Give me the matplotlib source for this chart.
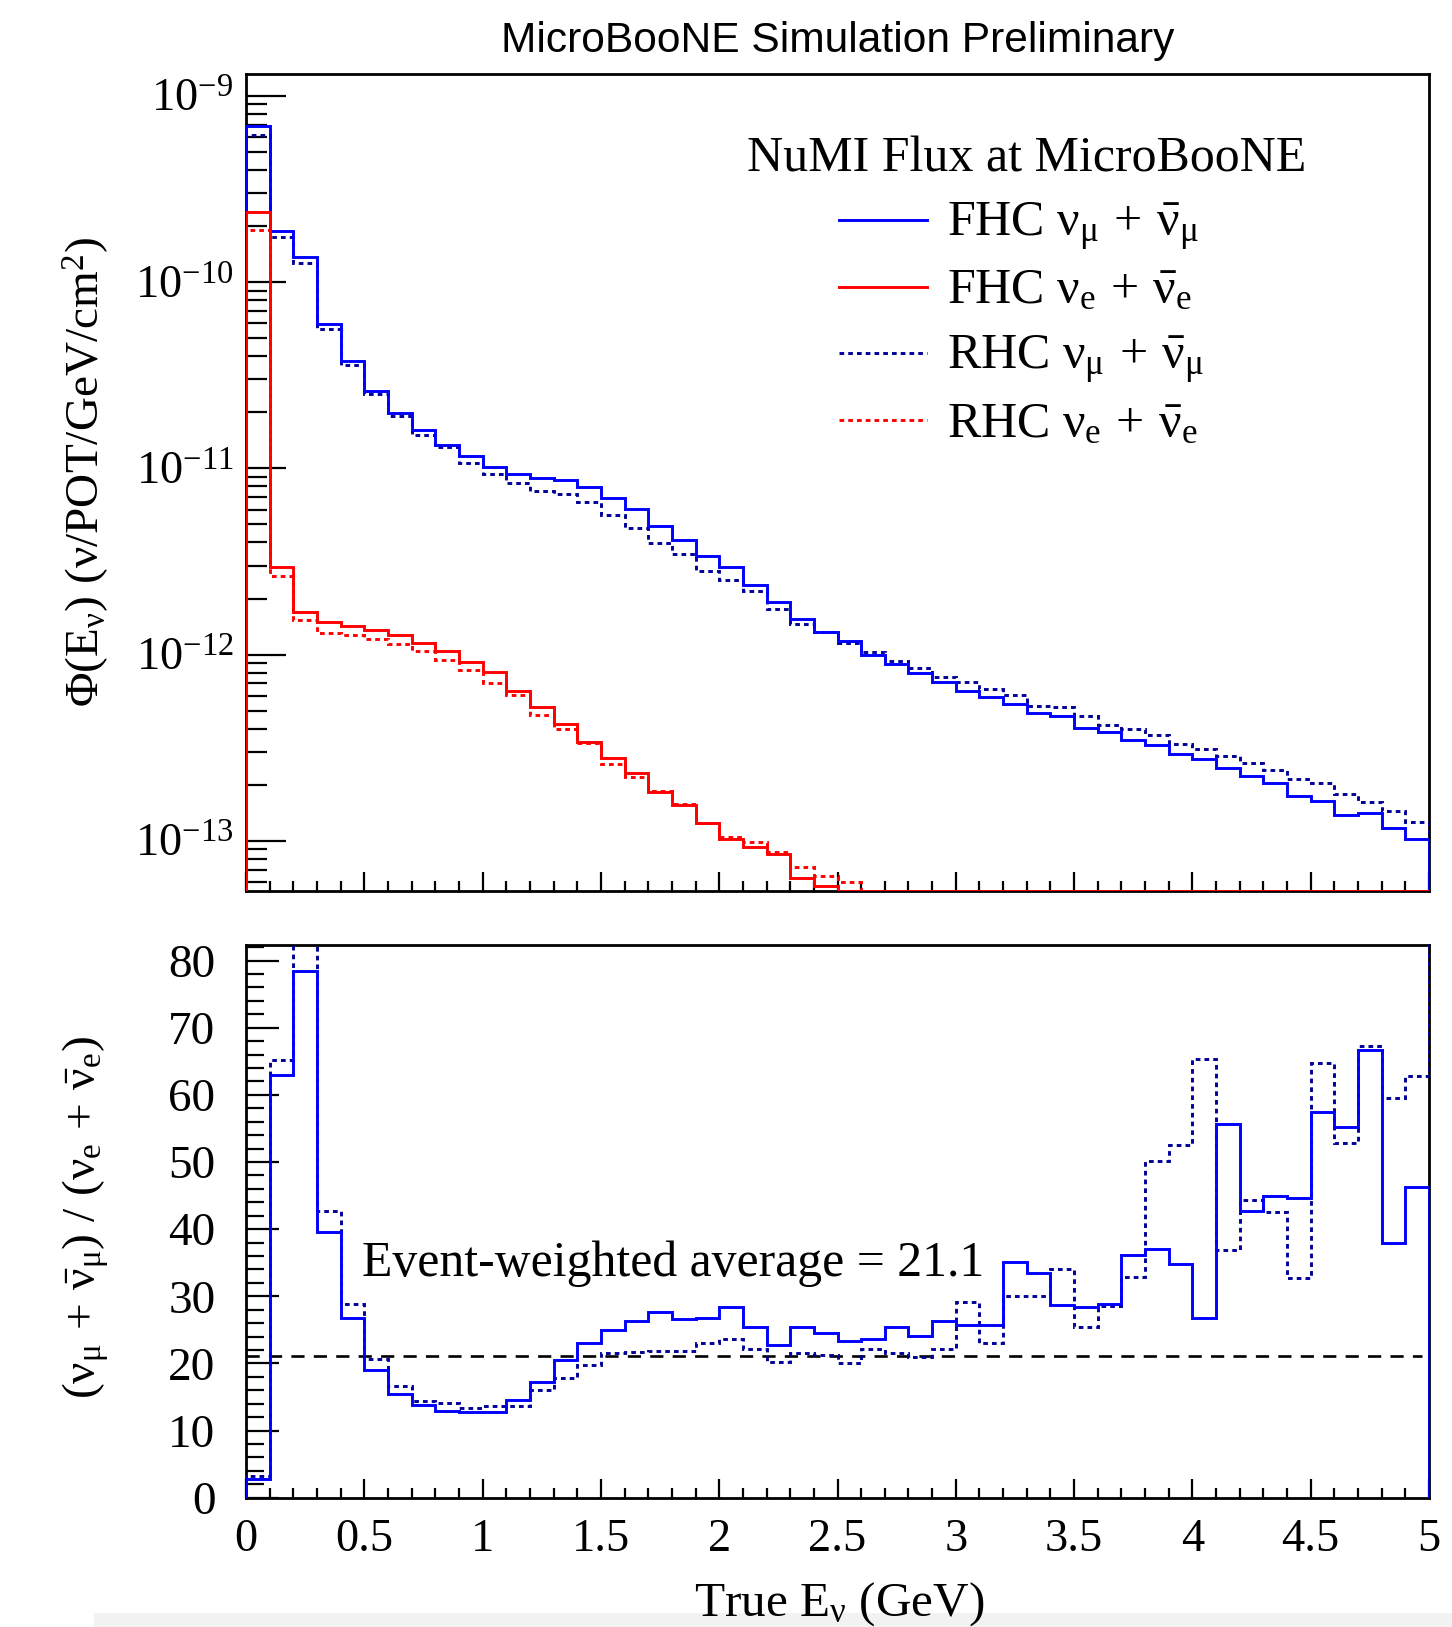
import matplotlib
matplotlib.use("Agg")
import matplotlib.pyplot as plt
import numpy as np
from matplotlib.ticker import MultipleLocator, LogLocator, FormatStrFormatter, NullFormatter
from matplotlib.lines import Line2D
from matplotlib.patches import Rectangle

plt.rcParams['font.family'] = ['Liberation Serif', 'DejaVu Serif']
plt.rcParams['mathtext.fontset'] = 'custom'
plt.rcParams['mathtext.rm'] = 'Liberation Serif'
plt.rcParams['mathtext.it'] = 'Liberation Serif'
plt.rcParams['mathtext.bf'] = 'Liberation Serif:bold'

# ---------------- data ----------------
bin_edges = np.round(np.arange(0, 5.0001, 0.1), 3)   # 50 bins of 0.1 GeV

fhc_numu = [6.9e-10, 1.87e-10, 1.36e-10, 5.97e-11, 3.75e-11, 2.6e-11, 1.98e-11, 1.61e-11, 1.34e-11, 1.17e-11,
            1.02e-11, 9.3e-12, 8.9e-12, 8.65e-12, 7.9e-12, 6.9e-12, 6.05e-12, 4.9e-12, 4.12e-12, 3.38e-12,
            2.94e-12, 2.36e-12, 1.92e-12, 1.55e-12, 1.33e-12, 1.19e-12, 9.9e-13, 8.87e-13, 7.96e-13, 7.12e-13,
            6.36e-13, 5.95e-13, 5.42e-13, 4.87e-13, 4.68e-13, 4.06e-13, 3.83e-13, 3.49e-13, 3.26e-13, 2.93e-13,
            2.75e-13, 2.47e-13, 2.23e-13, 2.04e-13, 1.75e-13, 1.64e-13, 1.38e-13, 1.41e-13, 1.17e-13, 1.02e-13]

rhc_numu = [6.2e-10, 1.74e-10, 1.26e-10, 5.58e-11, 3.59e-11, 2.51e-11, 1.9e-11, 1.51e-11, 1.30e-11, 1.07e-11,
            9.3e-12, 8.3e-12, 7.55e-12, 7.25e-12, 6.6e-12, 5.6e-12, 4.76e-12, 3.99e-12, 3.47e-12, 2.82e-12,
            2.51e-12, 2.2e-12, 1.75e-12, 1.46e-12, 1.32e-12, 1.15e-12, 1.03e-12, 9.2e-13, 8.5e-13, 7.55e-13,
            7.1e-13, 6.5e-13, 6.06e-13, 5.27e-13, 5.21e-13, 4.68e-13, 4.2e-13, 3.98e-13, 3.72e-13, 3.3e-13,
            3.1e-13, 2.86e-13, 2.62e-13, 2.4e-13, 2.14e-13, 2.04e-13, 1.79e-13, 1.61e-13, 1.44e-13, 1.27e-13]

fhc_nue = [2.39e-10, 2.96e-12, 1.70e-12, 1.49e-12, 1.42e-12, 1.36e-12, 1.27e-12, 1.16e-12, 1.04e-12, 9.1e-13,
           8.1e-13, 6.4e-13, 5.2e-13, 4.24e-13, 3.4e-13, 2.8e-13, 2.3e-13, 1.83e-13, 1.55e-13, 1.25e-13,
           1.02e-13, 9.3e-14, 8.55e-14, 6.3e-14, 5.7e-14, 5.1e-14, 4.2e-14, 3.5e-14, 3.3e-14, 2.7e-14,
           2.5e-14, 2.3e-14, 1.5e-14, 1.5e-14, 1.6e-14, 1.4e-14, 1.3e-14, 9.6e-15, 8.8e-15, 8.4e-15,
           1.0e-14, 4.4e-15, 5.2e-15, 4.5e-15, 3.9e-15, 2.9e-15, 2.5e-15, 2.1e-15, 3.1e-15, 2.2e-15]

rhc_nue = [1.9e-10, 2.64e-12, 1.53e-12, 1.30e-12, 1.27e-12, 1.22e-12, 1.14e-12, 1.04e-12, 9.3e-13, 8.3e-13,
           7.0e-13, 6.06e-13, 4.73e-13, 4.0e-13, 3.34e-13, 2.6e-13, 2.2e-13, 1.85e-13, 1.58e-13, 1.25e-13,
           1.05e-13, 9.9e-14, 8.7e-14, 7.2e-14, 6.5e-14, 6.0e-14, 4.7e-14, 4.3e-14, 4.0e-14, 3.4e-14,
           2.4e-14, 2.8e-14, 2.0e-14, 1.75e-14, 1.5e-14, 1.8e-14, 1.5e-14, 1.2e-14, 7.4e-15, 6.3e-15,
           4.7e-15, 7.8e-15, 5.9e-15, 5.6e-15, 6.5e-15, 3.1e-15, 3.4e-15, 2.4e-15, 2.4e-15, 2.0e-15]

ratio_fhc = [2.8, 63.0, 78.4, 39.6, 26.8, 19.0, 15.5, 13.8, 12.9, 12.7,
             12.7, 14.5, 17.2, 20.5, 23.0, 25.0, 26.3, 27.7, 26.6, 26.8,
             28.4, 25.4, 22.8, 25.4, 24.6, 23.3, 23.6, 25.4, 24.1, 26.3,
             25.7, 25.7, 35.1, 33.4, 28.7, 28.4, 28.8, 36.2, 37.1, 34.8,
             26.7, 55.6, 42.7, 45.0, 44.6, 57.5, 55.2, 66.7, 38.0, 46.3]

ratio_rhc = [3.2, 65.2, 84.0, 42.7, 28.8, 20.6, 16.7, 14.4, 14.1, 13.4,
             13.6, 13.6, 16.1, 17.8, 19.8, 21.6, 21.7, 21.9, 21.8, 23.0,
             23.6, 22.1, 20.2, 21.5, 21.2, 20.1, 22.1, 21.5, 21.0, 22.1,
             29.1, 23.0, 30.1, 30.1, 34.1, 25.4, 28.5, 32.8, 50.1, 52.6,
             65.3, 36.9, 44.3, 42.5, 32.7, 64.8, 52.9, 67.3, 59.6, 62.8]
ratio_rhc_overflow = 95.0      # next bin beyond 5 GeV (off scale)
overflow_edge = 5.1

event_weighted_avg = 21.1

flux_ylim = (5.4e-14, 1.31e-9)
ratio_ylim = (0, 82.4)
x_range = (0, 5)

# ---------------- styles ----------------
BLUE = '#0000ff'
NAVY = '#000099'
RED = '#ff0000'
LW = 2.1
DOT = (0, (1.6, 1.4))
TICK_FS = 33.5

W, H = 1452, 1627
fig = plt.figure(figsize=(W / 100, H / 100), dpi=100)

def fx(px):
    return px / W

def fy(py):
    return 1 - py / H

ax1 = fig.add_axes([fx(246), fy(890.7), fx(1429) - fx(246), fy(74) - fy(890.7)])
ax2 = fig.add_axes([fx(246), fy(1497.7), fx(1429) - fx(246), fy(944.5) - fy(1497.7)])

# ---- top panel: flux ----
ymin = flux_ylim[0]
series = [(fhc_numu, BLUE, '-'), (fhc_nue, RED, '-'), (rhc_numu, NAVY, DOT), (rhc_nue, RED, DOT)]
for vals, col, ls in [series[2], series[3], series[0], series[1]]:
    v = np.maximum(np.asarray(vals), ymin)
    ax1.stairs(v, bin_edges, baseline=ymin, color=col, linestyle=ls, linewidth=LW, zorder=3)

ax1.set_yscale('log')
ax1.set_ylim(*flux_ylim)
ax1.set_xlim(*x_range)
ax1.yaxis.set_major_locator(LogLocator(base=10, numticks=20))
ax1.yaxis.set_minor_locator(LogLocator(base=10, subs=np.arange(2, 10), numticks=20))
ax1.yaxis.set_minor_formatter(NullFormatter())
ax1.xaxis.set_major_locator(MultipleLocator(0.5))
ax1.xaxis.set_minor_locator(MultipleLocator(0.1))
ax1.tick_params(axis='x', which='both', labelbottom=False)
ax1.tick_params(which='both', direction='in', top=False, right=False, width=1.6, color='black')
ax1.tick_params(axis='y', which='major', length=29, labelsize=TICK_FS, pad=9)
ax1.tick_params(axis='y', which='minor', length=15)
ax1.tick_params(axis='x', which='major', length=14)
ax1.tick_params(axis='x', which='minor', length=7)

# ---- bottom panel: ratio ----
ax2.stairs(ratio_rhc + [ratio_rhc_overflow], list(bin_edges) + [overflow_edge], baseline=0,
           color=NAVY, linestyle=DOT, linewidth=LW, zorder=3)
ax2.stairs(ratio_fhc, bin_edges, baseline=0, color=BLUE, linestyle='-', linewidth=LW, zorder=3)
ax2.hlines(event_weighted_avg, x_range[0], x_range[1] - 0.03, colors='black',
           linestyles=(0, (5.0, 3.5)), linewidth=1.9, zorder=2)
ax2.text(0.49, 33.0, 'Event-weighted average = %.1f' % event_weighted_avg,
         fontsize=35.8, va='baseline', ha='left')

ax2.set_xlim(*x_range)
ax2.set_ylim(*ratio_ylim)
ax2.xaxis.set_major_locator(MultipleLocator(0.5))
ax2.xaxis.set_minor_locator(MultipleLocator(0.1))
ax2.xaxis.set_major_formatter(FormatStrFormatter('%g'))
ax2.yaxis.set_major_locator(MultipleLocator(10))
ax2.yaxis.set_minor_locator(MultipleLocator(2))
ax2.tick_params(which='both', direction='in', top=False, right=False, width=1.6, color='black')
ax2.tick_params(axis='y', which='major', length=24, labelsize=34, pad=22)
ax2.tick_params(axis='y', which='minor', length=13)
ax2.tick_params(axis='x', which='major', length=14, labelsize=TICK_FS, pad=15)
ax2.tick_params(axis='x', which='minor', length=7)

for ax in (ax1, ax2):
    for s in ax.spines.values():
        s.set_linewidth(2.0)

# ---- texts ----
fig.text(fx(837.5), fy(52), 'MicroBooNE Simulation Preliminary', family=['Liberation Sans', 'DejaVu Sans'],
         fontsize=30.6, ha='center', va='baseline')
fig.text(fx(86), fy(472), r'$\Phi(\mathrm{E}_{\nu})\ (\nu/\mathrm{POT/GeV/cm}^{2})$',
         rotation=90, ha='center', va='center', fontsize=34)
fig.text(fx(86), fy(1218), r'$(\nu_{\mu}\,+\,\bar{\nu}_{\mu})\ /\ (\nu_{e}\,+\,\bar{\nu}_{e})$',
         rotation=90, ha='center', va='center', fontsize=34)
fig.text(fx(839), fy(1616), r'True E$_{\nu}$ (GeV)', ha='center', va='baseline', fontsize=35.5)

# ---- legend ----
fig.text(fx(747), fy(171), 'NuMI Flux at MicroBooNE', fontsize=36, va='baseline', ha='left')
legend_labels = [r'FHC $\nu_{\mu}\,+\,\bar{\nu}_{\mu}$', r'FHC $\nu_{e}\,+\,\bar{\nu}_{e}$',
                 r'RHC $\nu_{\mu}\,+\,\bar{\nu}_{\mu}$', r'RHC $\nu_{e}\,+\,\bar{\nu}_{e}$']
legend_styles = [(BLUE, '-'), (RED, '-'), (NAVY, DOT), (RED, DOT)]
legend_rows = [220, 286.5, 352.9, 420.3]
for lab, (col, ls), ry in zip(legend_labels, legend_styles, legend_rows):
    fig.add_artist(Line2D([fx(838.6), fx(926.8)], [fy(ry), fy(ry)], transform=fig.transFigure,
                          color=col, linestyle=ls, linewidth=LW))
    fig.text(fx(946.6), fy(ry + 16.5), lab, fontsize=36, va='baseline', ha='left')

# faint grey band at the bottom edge of the reference screenshot
fig.add_artist(Rectangle((0.065, 0), 0.935, 14 / H, transform=fig.transFigure,
                         facecolor='#f2f2f2', edgecolor='none', zorder=-5))

fig.savefig('out.png', dpi=100)
